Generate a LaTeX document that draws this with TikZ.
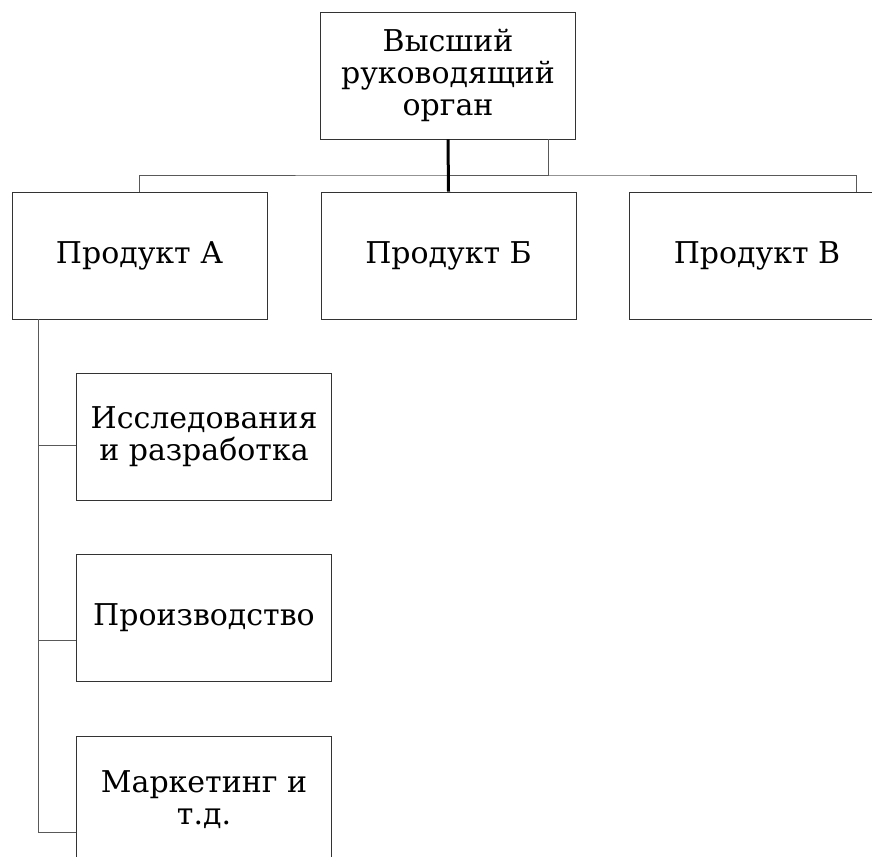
\documentclass[tikz,border=0pt]{standalone}
\usepackage{fontspec}
\newfontfamily\boxfont{DejaVu Serif}
\usetikzlibrary{positioning}
\tikzset{unit/.style={draw=black!80, line width=0.9pt, rectangle,
    minimum width=255pt, minimum height=127pt, align=center,
    inner sep=0pt, font=\boxfont\fontsize{30}{32}\selectfont}}

\begin{document}
\begin{tikzpicture}[x=1pt, y=-1pt,
    link/.style={draw=black!65, line width=0.9pt}]
  \useasboundingbox (0,0) rectangle (872,856);
  % top level
  \node[unit] (top) at (448,75.5) {Высший\\руководящий\\орган};
  % products
  \node[unit] (pa) at (139.5,255.5) {Продукт А};
  \node[unit] (pb) at (448.5,255.5) {Продукт Б};
  \node[unit] (pv) at (757,255.5) {Продукт В};
  % functions of product A
  \node[unit] (research) at (204,436.5) {Исследования\\и разработка};
  \node[unit] (prod) at (204,618) {Производство};
  \node[unit] (market) at (204,800) {Маркетинг и\\т.д.};
  % connectors
  \coordinate (bus) at (448,175);
  \draw[link] (pa.north) |- (bus) -| ([xshift=99pt]pv.north);
  \draw[link] ([xshift=100pt]top.south) |- (bus);
  \draw[line width=3pt] (top.south) -- (pb.north);
  \coordinate (spine) at ([xshift=-101.5pt]pa.south);
  \draw[link] (spine) |- ([yshift=-8.5pt]research.west);
  \draw[link] (spine) |- ([yshift=-22pt]prod.west);
  \draw[link] (spine) |- ([yshift=-32pt]market.west);
\end{tikzpicture}
\end{document}
